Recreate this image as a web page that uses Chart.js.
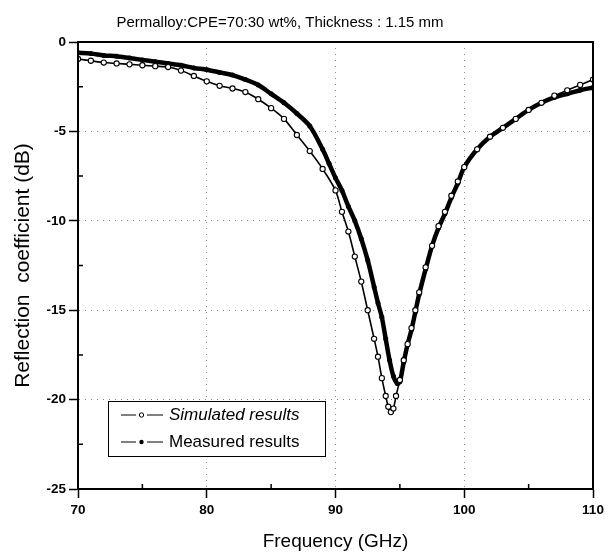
<!DOCTYPE html>
<html>
<head>
<meta charset="utf-8">
<script src="https://cdn.jsdelivr.net/npm/chart.js@4.4.1/dist/chart.umd.min.js"></script>
<style>
  html, body { margin: 0; padding: 0; background: #fff; }
  #wrap { width: 614px; height: 557px; }
</style>
</head>
<body>
<div id="wrap"><canvas id="refl"></canvas></div>
<script>
// Waarden (frequentie in GHz, reflectie in dB)
const simFreq = [70, 71, 72, 73, 74, 75, 76, 77, 78, 79, 80, 81, 82, 83, 84, 85, 86, 87, 88, 89, 90,
    90.5, 91, 91.5, 92, 92.5, 93, 93.3, 93.6, 93.9, 94.1, 94.3, 94.5, 94.7, 95.0, 95.3, 95.6, 95.9,
    96.2, 96.5, 97, 97.5, 98, 98.5, 99, 99.5, 100, 101, 102, 103, 104, 105, 106, 107, 108, 109, 110];
const simDb = [-0.95, -1.05, -1.15, -1.2, -1.25, -1.3, -1.35, -1.4, -1.6, -1.9, -2.2, -2.45, -2.6, -2.8, -3.2, -3.7, -4.3, -5.2, -6.1, -7.1, -8.3,
    -9.5, -10.6, -12.0, -13.4, -15.0, -16.6, -17.6, -18.8, -19.8, -20.4, -20.7, -20.5, -19.8, -18.9, -17.8, -16.9, -16.0,
    -15.0, -14.0, -12.6, -11.4, -10.3, -9.5, -8.6, -7.8, -7.0, -6.0, -5.3, -4.8, -4.3, -3.8, -3.4, -3.0, -2.7, -2.4, -2.1];

const measFreq = [70, 71, 72, 73, 74, 75, 76, 77, 78, 79, 80, 81, 82, 83, 84, 85, 86, 87, 88, 89, 89.5,
    90, 90.5, 91, 91.5, 92, 92.5, 93, 93.3, 93.6, 93.9, 94.2, 94.5, 94.8, 95.0, 95.3, 95.6, 95.9,
    96.2, 96.5, 97, 97.5, 98, 98.5, 99, 99.5, 100, 101, 102, 103, 104, 105, 106, 107, 108, 109, 110];
const measDb = [-0.6, -0.65, -0.75, -0.8, -0.9, -1.0, -1.1, -1.2, -1.3, -1.45, -1.55, -1.7, -1.85, -2.1, -2.4, -2.9, -3.4, -4.0, -4.7, -6.0, -6.8,
    -7.6, -8.3, -9.2, -10.0, -11.0, -12.2, -13.7, -14.6, -15.4, -16.6, -17.8, -18.7, -19.1, -19.0, -17.9, -16.9, -16.1,
    -15.1, -14.1, -12.7, -11.4, -10.4, -9.6, -8.7, -7.9, -7.0, -6.0, -5.3, -4.8, -4.3, -3.8, -3.4, -3.1, -2.9, -2.7, -2.55];

const xTicks = [70, 80, 90, 100, 110];
const yTicks = [0, -5, -10, -15, -20, -25];
const xMinor = [75, 85, 95, 105];
const yMinor = [-2.5, -7.5, -12.5, -17.5, -22.5];

const TITLE = 'Permalloy:CPE=70:30 wt%, Thickness : 1.15 mm';
const LEGEND = ['Simulated results', 'Measured results'];

const FONT = 'Liberation Sans, Arial, sans-serif';
const TICK_FONT = { family: FONT, size: 13.5, weight: 'bold' };

const toXY = (xs, ys) => xs.map((x, i) => ({ x, y: ys[i] }));

// Kader rondom, kleine tussenstreepjes, titel en legenda-kader
const framePlugin = {
    id: 'frame',
    afterDraw(chart) {
        const { ctx, chartArea: a, scales } = chart;
        ctx.save();
        ctx.strokeStyle = '#000';
        ctx.lineWidth = 2;
        ctx.strokeRect(a.left, a.top, a.right - a.left, a.bottom - a.top);

        ctx.lineWidth = 1.5;
        ctx.beginPath();
        xMinor.forEach(v => {
            const px = scales.x.getPixelForValue(v);
            ctx.moveTo(px, a.bottom); ctx.lineTo(px, a.bottom - 5);
        });
        yMinor.forEach(v => {
            const py = scales.y.getPixelForValue(v);
            ctx.moveTo(a.left, py); ctx.lineTo(a.left + 5, py);
        });
        ctx.stroke();

        // titel
        ctx.fillStyle = '#000';
        ctx.font = '15px ' + FONT;
        ctx.textAlign = 'center';
        ctx.textBaseline = 'middle';
        ctx.fillText(TITLE, 280, 23);

        // legenda
        const bx = 108, by = 401, bw = 217, bh = 55;
        ctx.fillStyle = '#fff';
        ctx.fillRect(bx, by, bw, bh);
        ctx.lineWidth = 1;
        ctx.strokeStyle = '#000';
        ctx.strokeRect(bx + 0.5, by + 0.5, bw, bh);
        const rows = [by + 14, by + 41];
        rows.forEach((ry, i) => {
            ctx.beginPath();
            ctx.lineWidth = 1;
            ctx.moveTo(121, ry); ctx.lineTo(136, ry);
            ctx.moveTo(147, ry); ctx.lineTo(163, ry);
            ctx.stroke();
            ctx.beginPath();
            ctx.arc(141.5, ry, 2.2, 0, Math.PI * 2);
            if (i === 0) { ctx.fillStyle = '#fff'; ctx.fill(); ctx.stroke(); }
            else { ctx.fillStyle = '#000'; ctx.fill(); }
            ctx.fillStyle = '#000';
            ctx.font = (i === 0 ? 'italic ' : '') + '17px ' + FONT;
            ctx.textAlign = 'left';
            ctx.fillText(LEGEND[i], 169, ry);
        });
        ctx.restore();
    }
};

new Chart(document.getElementById('refl'), {
    type: 'scatter',
    data: {
        datasets: [
            {
                label: LEGEND[1], data: toXY(measFreq, measDb), showLine: true,
                borderColor: '#000', borderWidth: 4.5, backgroundColor: '#000',
                pointRadius: 2.5, pointBorderWidth: 0, tension: 0.3, order: 2
            },
            {
                label: LEGEND[0], data: toXY(simFreq, simDb), showLine: true,
                borderColor: '#000', borderWidth: 1.6, backgroundColor: '#fff',
                pointRadius: 2.6, pointBorderWidth: 1.1, tension: 0.3, order: 1
            }
        ]
    },
    options: {
        responsive: true,
        maintainAspectRatio: false,
        animation: false,
        layout: { padding: { left: 0, right: 21, top: 42, bottom: 0 } },
        plugins: { legend: { display: false }, title: { display: false }, tooltip: { enabled: false } },
        scales: {
            x: {
                type: 'linear', min: 70, max: 110,
                afterBuildTicks: s => { s.ticks = xTicks.map(v => ({ value: v })); },
                afterFit: s => { s.height = 68; },
                ticks: { font: TICK_FONT, color: '#000', padding: 4 },
                grid: { color: '#888', lineWidth: 1, tickLength: 9, tickColor: '#000', tickWidth: 1.5, tickBorderDash: [] },
                border: { color: '#000', width: 2, dash: [1, 5] },
                title: { display: true, text: 'Frequency (GHz)', font: { family: FONT, size: 19 }, color: '#000', padding: { top: 8, bottom: 4 } }
            },
            y: {
                type: 'linear', min: -25, max: 0,
                afterBuildTicks: s => { s.ticks = yTicks.map(v => ({ value: v })); },
                afterFit: s => { s.width = 78; },
                ticks: { font: TICK_FONT, color: '#000', padding: 3 },
                grid: { color: '#888', lineWidth: 1, tickLength: 9, tickColor: '#000', tickWidth: 1.5, tickBorderDash: [] },
                border: { color: '#000', width: 2, dash: [1, 5] },
                title: { display: true, text: 'Reflection  coefficient (dB)', font: { family: FONT, size: 21 }, color: '#000', padding: { top: 11, bottom: 0 } }
            }
        }
    },
    plugins: [framePlugin]
});
</script>
</body>
</html>
